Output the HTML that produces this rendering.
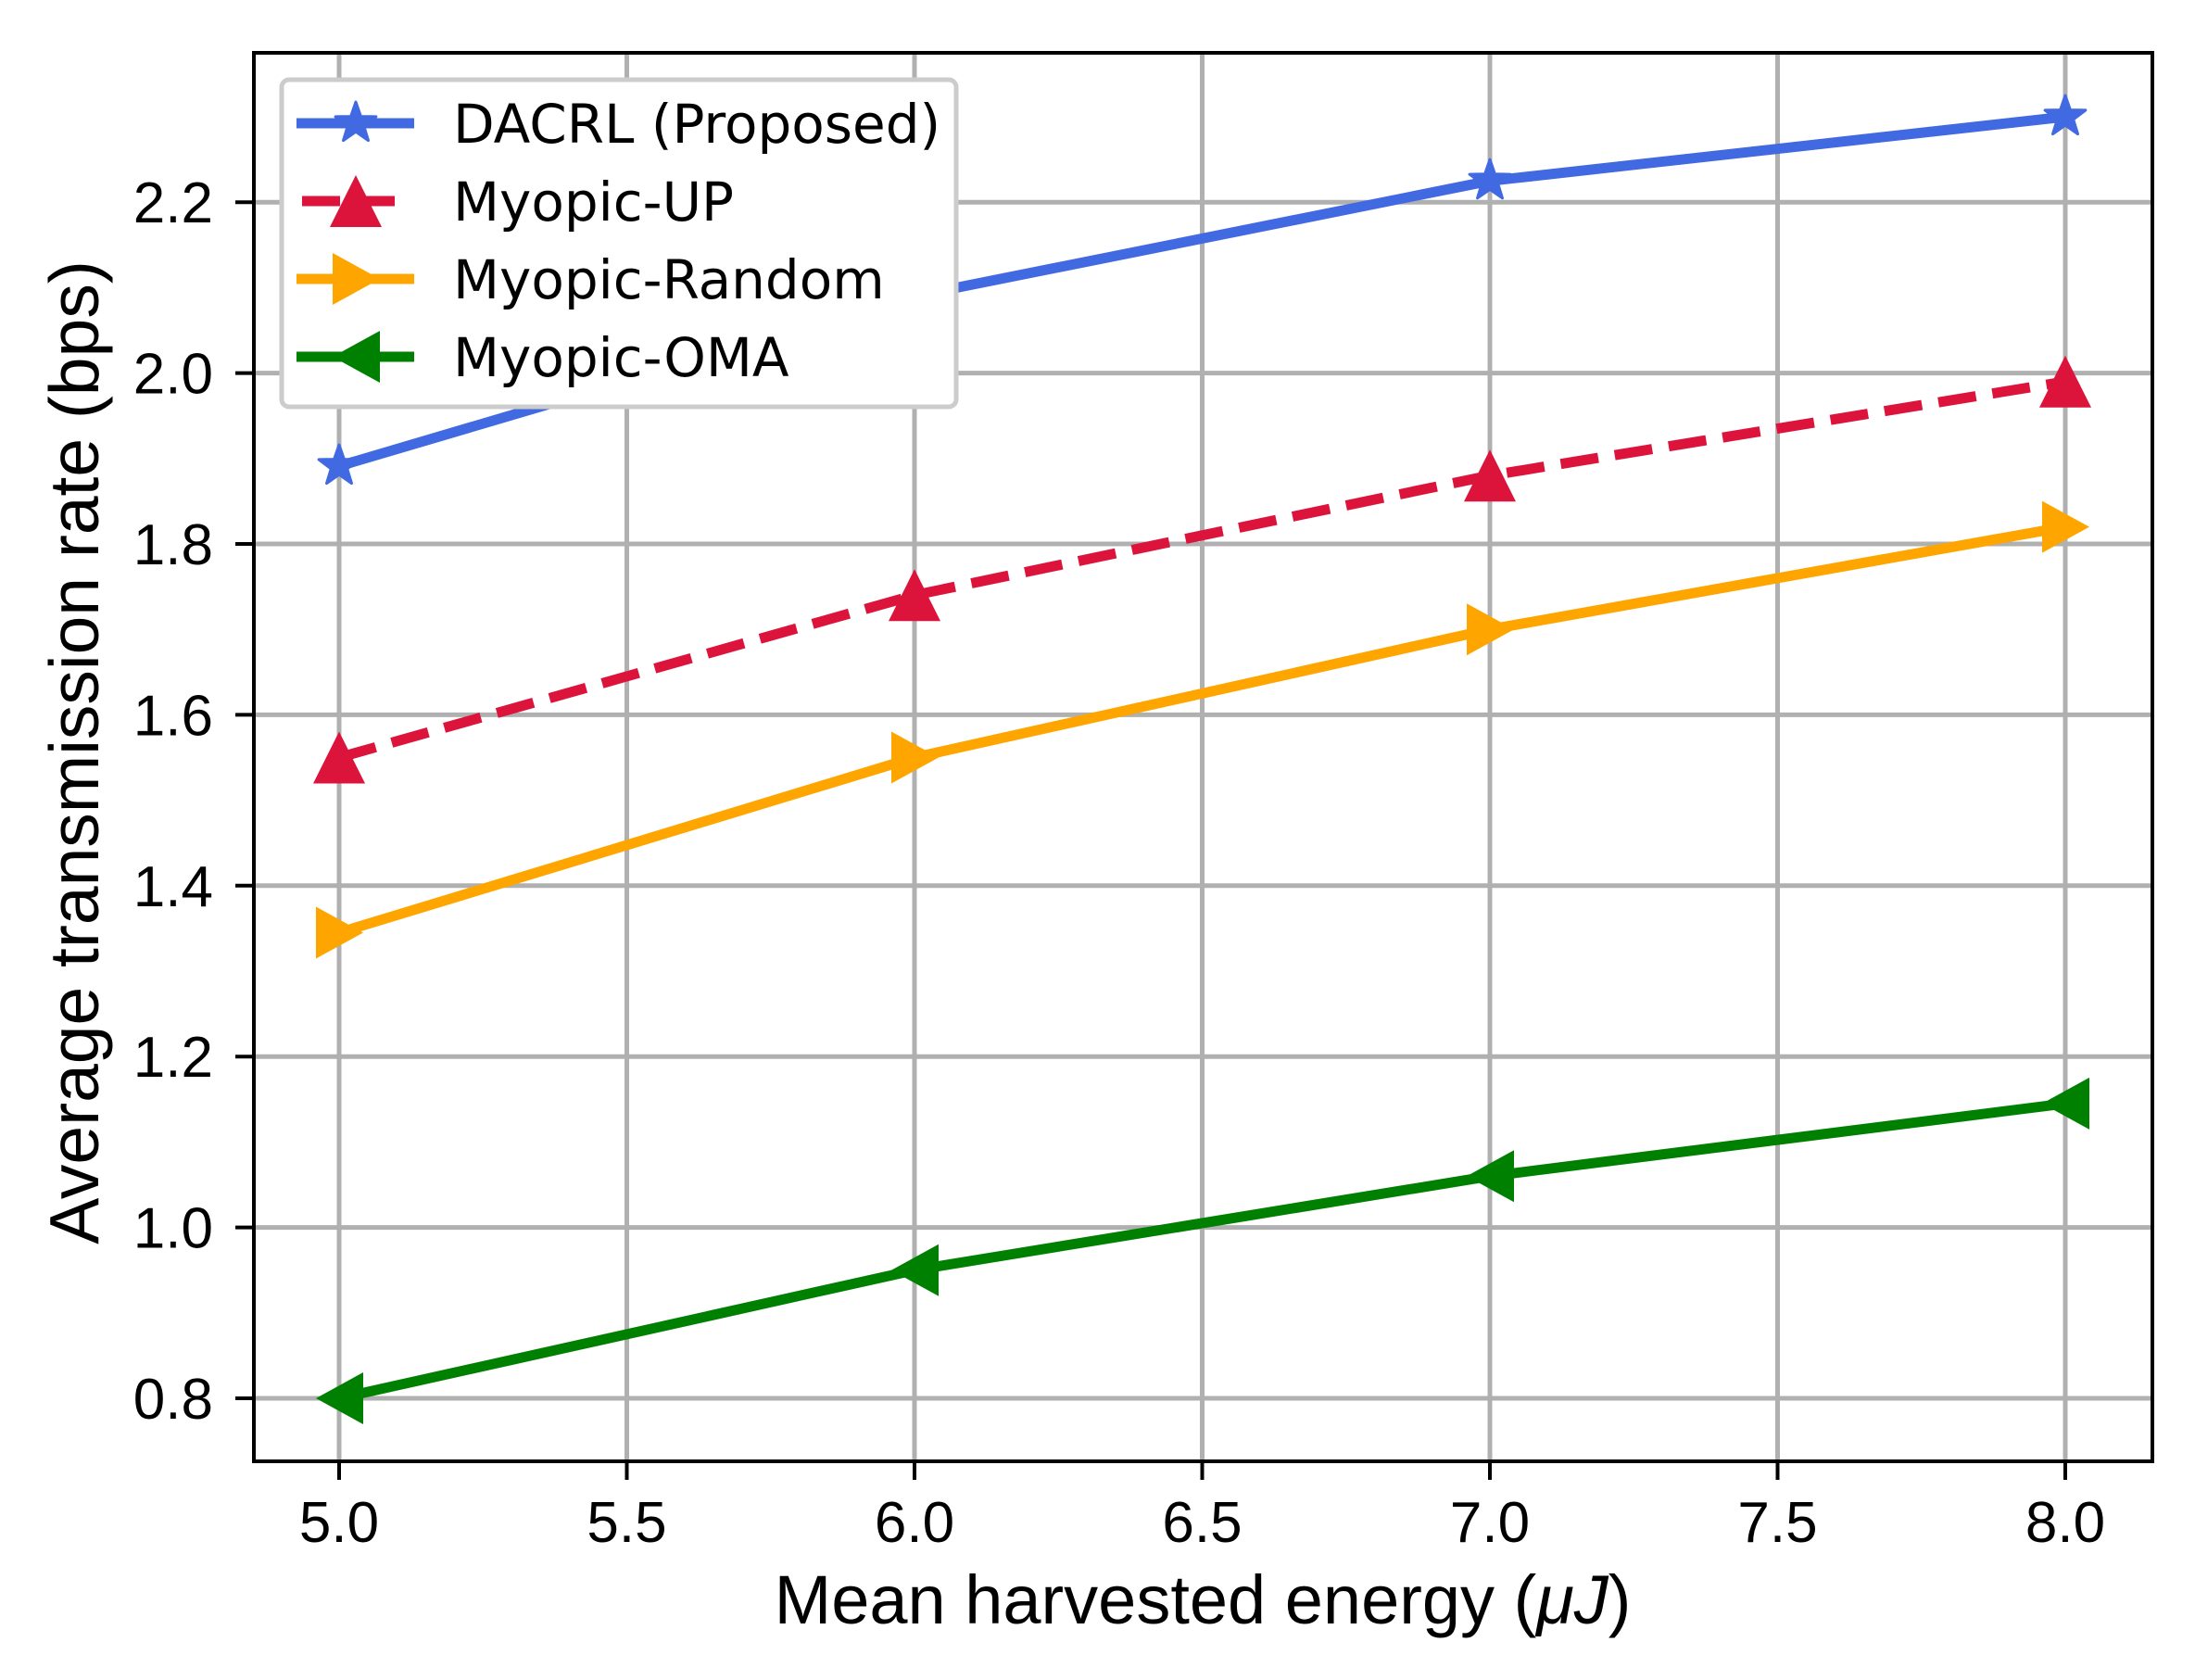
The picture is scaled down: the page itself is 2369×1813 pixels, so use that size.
<!DOCTYPE html>
<html><head><meta charset="utf-8"><style>html,body{margin:0;padding:0;background:#fff}</style></head>
<body>
<svg width="2369" height="1808" viewBox="0 0 2369 1808" xmlns="http://www.w3.org/2000/svg" font-family="Liberation Sans, Arial, sans-serif">
<rect width="2369" height="1808" fill="#fff"/>
<g stroke="#b0b0b0" stroke-width="5">
<line x1="366" y1="57" x2="366" y2="1577"/><line x1="676.5" y1="57" x2="676.5" y2="1577"/><line x1="987" y1="57" x2="987" y2="1577"/><line x1="1297.5" y1="57" x2="1297.5" y2="1577"/><line x1="1608" y1="57" x2="1608" y2="1577"/><line x1="1918.5" y1="57" x2="1918.5" y2="1577"/><line x1="2229" y1="57" x2="2229" y2="1577"/>
<line x1="274" y1="1509" x2="2323" y2="1509"/><line x1="274" y1="1324.6" x2="2323" y2="1324.6"/><line x1="274" y1="1140.2" x2="2323" y2="1140.2"/><line x1="274" y1="955.8" x2="2323" y2="955.8"/><line x1="274" y1="771.4" x2="2323" y2="771.4"/><line x1="274" y1="587" x2="2323" y2="587"/><line x1="274" y1="402.6" x2="2323" y2="402.6"/><line x1="274" y1="218.2" x2="2323" y2="218.2"/>
</g>
<g fill="none" stroke-width="11" stroke-linejoin="round">
<polyline stroke="#4169e1" points="366,503 987,319.6 1608,195.2 2229,126"/>
<polyline stroke="#dc143c" stroke-dasharray="41,18" points="366,817.5 987,642.3 1608,513.2 2229,411.8"/>
<polyline stroke="#ffa500" points="366,1006.5 987,817.5 1608,679.2 2229,568.6"/>
<polyline stroke="#008000" points="366,1509 987,1370.7 1608,1269.3 2229,1190.9"/>
</g>
<defs>
<polygon id="star" points="0,-23 5.4,-7.4 21.9,-7.1 8.7,2.9 13.5,18.6 0,9.2 -13.5,18.6 -8.7,2.9 -21.9,-7.1 -5.4,-7.4" stroke-width="3" stroke-linejoin="round"/>
<polygon id="tri" points="0,-28 -28,28 28,28"/>
<polygon id="tr" points="26,0 -25,-28 -25,28"/>
<polygon id="tl" points="-25,0 26,-28 26,28"/>
</defs>
<g fill="#4169e1" stroke="#4169e1"><use href="#star" x="366" y="503"/><use href="#star" x="987" y="319.6"/><use href="#star" x="1608" y="195.2"/><use href="#star" x="2229" y="126"/></g>
<g fill="#dc143c"><use href="#tri" x="366" y="817.5"/><use href="#tri" x="987" y="642.3"/><use href="#tri" x="1608" y="513.2"/><use href="#tri" x="2229" y="411.8"/></g>
<g fill="#ffa500"><use href="#tr" x="366" y="1006.5"/><use href="#tr" x="987" y="817.5"/><use href="#tr" x="1608" y="679.2"/><use href="#tr" x="2229" y="568.6"/></g>
<g fill="#008000"><use href="#tl" x="366" y="1509"/><use href="#tl" x="987" y="1370.7"/><use href="#tl" x="1608" y="1269.3"/><use href="#tl" x="2229" y="1190.9"/></g>
<rect x="274" y="57" width="2049" height="1520" fill="none" stroke="#000" stroke-width="4"/>
<g stroke="#000" stroke-width="4">
<line x1="366" y1="1577" x2="366" y2="1597"/><line x1="676.5" y1="1577" x2="676.5" y2="1597"/><line x1="987" y1="1577" x2="987" y2="1597"/><line x1="1297.5" y1="1577" x2="1297.5" y2="1597"/><line x1="1608" y1="1577" x2="1608" y2="1597"/><line x1="1918.5" y1="1577" x2="1918.5" y2="1597"/><line x1="2229" y1="1577" x2="2229" y2="1597"/>
<line x1="254" y1="1509" x2="274" y2="1509"/><line x1="254" y1="1324.6" x2="274" y2="1324.6"/><line x1="254" y1="1140.2" x2="274" y2="1140.2"/><line x1="254" y1="955.8" x2="274" y2="955.8"/><line x1="254" y1="771.4" x2="274" y2="771.4"/><line x1="254" y1="587" x2="274" y2="587"/><line x1="254" y1="402.6" x2="274" y2="402.6"/><line x1="254" y1="218.2" x2="274" y2="218.2"/>
</g>
<g font-size="62" fill="#000" text-anchor="middle">
<text x="366" y="1664">5.0</text><text x="676.5" y="1664">5.5</text><text x="987" y="1664">6.0</text><text x="1297.5" y="1664">6.5</text><text x="1608" y="1664">7.0</text><text x="1918.5" y="1664">7.5</text><text x="2229" y="1664">8.0</text>
</g>
<g font-size="62" fill="#000" text-anchor="end">
<text x="230" y="1531">0.8</text><text x="230" y="1346.6">1.0</text><text x="230" y="1162.2">1.2</text><text x="230" y="977.8">1.4</text><text x="230" y="793.4">1.6</text><text x="230" y="609">1.8</text><text x="230" y="424.6">2.0</text><text x="230" y="240.2">2.2</text>
</g>
<text x="1298" y="1752" font-size="74" text-anchor="middle">Mean harvested energy (<tspan font-style="italic">μJ</tspan>)</text>
<text transform="translate(106,812) rotate(-90)" font-size="75" text-anchor="middle">Average transmission rate (bps)</text>
<rect x="304" y="86" width="728" height="353" rx="8" fill="#fff" stroke="#cccccc" stroke-width="5"/>
<g stroke-width="11">
<line x1="320" y1="133" x2="447" y2="133" stroke="#4169e1"/>
<line x1="326" y1="217" x2="440" y2="217" stroke="#dc143c" stroke-dasharray="41,18"/>
<line x1="320" y1="301" x2="447" y2="301" stroke="#ffa500"/>
<line x1="320" y1="385" x2="447" y2="385" stroke="#008000"/>
</g>
<use href="#star" x="384" y="133" fill="#4169e1" stroke="#4169e1"/>
<use href="#tri" x="384" y="217" fill="#dc143c"/>
<use href="#tr" x="384" y="301" fill="#ffa500"/>
<use href="#tl" x="384" y="385" fill="#008000"/>
<g font-family="DejaVu Sans, sans-serif" font-size="58" fill="#000">
<text x="489" y="154">DACRL (Proposed)</text>
<text x="489" y="238">Myopic-UP</text>
<text x="489" y="322">Myopic-Random</text>
<text x="489" y="406">Myopic-OMA</text>
</g>
</svg>
</body></html>
